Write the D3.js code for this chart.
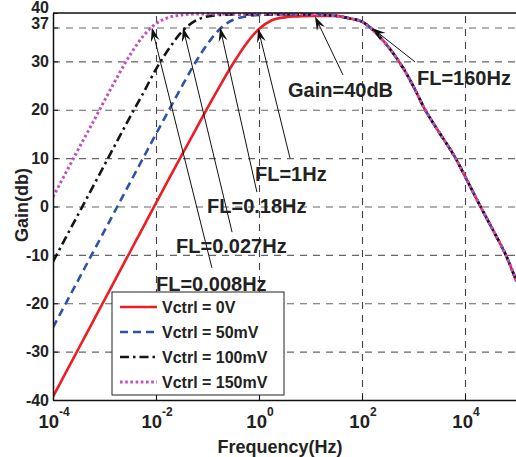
<!DOCTYPE html>
<html><head><meta charset="utf-8">
<script src="https://cdn.jsdelivr.net/npm/d3@7"></script>
<style>
body{margin:0;background:#fff}
svg text{font-family:"Liberation Sans",Arial,Helvetica,sans-serif;font-weight:bold;fill:#222}
</style>
</head><body>
<svg id="chart" width="516" height="457"></svg>
<script>
// ---- data ----
// frequency points as powers of ten (Hz)
const freqExp = [-4,-3.75,-3.5,-3.25,-3,-2.75,-2.5,-2.25,-2,-1.75,-1.5,-1.25,-1,-0.75,-0.5,-0.25,0,0.25,0.5,0.75,1,1.25,
                 1.5,1.75,2,2.16,2.35,2.54,2.8,3,3.2,3.5,3.8,4.05,4.3,4.55,4.8,5];
// high-frequency roll-off shared by all curves (from 10^1.5 Hz)
const gainHigh = [39.4,38.9,38.2,37,35,32.6,28.6,24.8,20.5,15.3,10.3,5.2,0,-5,-10.2,-15.5];
const gain0V   = [-39.3,-34.3,-29.3,-24.3,-19.3,-14.3,-9.3,-4.3,0.7,5.7,10.6,15.5,20.4,25.1,29.6,33.6,36.7,38.5,39.1,39.3,39.4,39.4].concat(gainHigh);
const gain50mV = [-25,-20,-15,-10,-5,0,5,10,15,19.9,24.8,29.5,33.6,36.8,38.6,39.3,39.6,39.7,39.7,39.7,39.7,39.6].concat(gainHigh);
const gain100mV= [-11.4,-6.4,-1.4,3.6,8.6,13.6,18.6,23.4,28.4,32.6,36.1,38.3,39.3,39.6,39.7,39.7,39.7,39.7,39.7,39.7,39.7,39.6].concat(gainHigh);
const gain150mV= [2,7,12,16.9,21.9,26.8,31.4,35.2,37.8,39.1,39.6,39.8,39.8,39.8,39.8,39.8,39.8,39.8,39.8,39.8,39.7,39.6].concat(gainHigh);

const seriesNames = ["Vctrl = 0V","Vctrl = 50mV","Vctrl = 100mV","Vctrl = 150mV"];
const seriesGains = [gain0V,gain50mV,gain100mV,gain150mV];

const xTickExp = [-4,-2,0,2,4];
const yTicks = [-40,-30,-20,-10,0,10,20,30,37,40];
const yGrid = [-30,-20,-10,0,10,20,30,37];

// annotations: label, label anchor (Hz, dB), arrow tail (Hz, dB), arrow tip (Hz, dB)
const annotations = [
  {text:"FL=0.008Hz", lx:0.0100, ly:-16.0, tx:0.122, ty:-12.7, hx:0.0083, hy:37.0},
  {text:"FL=0.027Hz", lx:0.0245, ly:-8.2,  tx:0.300, ty:-5.3,  hx:0.0334, hy:37.0},
  {text:"FL=0.18Hz",  lx:0.098,  ly:0.1,   tx:0.91,  ty:3.0,   hx:0.175,  hy:37.0},
  {text:"FL=1Hz",     lx:0.836,  ly:6.7,   tx:4.0,   ty:10.0,  hx:0.96,   hy:36.8},
  {text:"Gain=40dB",  lx:3.66,   ly:24.1,  tx:42.7,  ty:27.2,  hx:12.2,   hy:39.3},
  {text:"FL=160Hz",   lx:1170,   ly:26.6,  tx:1070,  ty:29.9,  hx:156,    hy:36.9}
];

// ---- styles ----
const styles = [
  {color:"#ee1c24", width:2.6, dash:null},
  {color:"#2f52a8", width:2.6, dash:"8,5"},
  {color:"#151515", width:2.6, dash:"9,4,2.5,4"},
  {color:"#c44fc0", width:3,   dash:"2.6,2.6"}
];

const svg = d3.select("#chart");
const L = 53, R = 516.5, T = 13, B = 400;
const x = d3.scaleLog().domain([1e-4,1e5]).range([L,R]);
const y = d3.scaleLinear().domain([-40,40]).range([B,T]);

// grid
svg.append("g").attr("transform",`translate(${L},0)`)
  .call(d3.axisLeft(y).tickValues(yGrid).tickSize(-(R-L)).tickFormat("").tickSizeOuter(0))
  .call(g=>g.select(".domain").remove())
  .call(g=>g.selectAll(".tick line").attr("stroke","#666").attr("stroke-width",1.1).attr("stroke-dasharray","7,6"));
svg.append("g").attr("transform",`translate(0,${B})`)
  .call(d3.axisBottom(x).tickValues(xTickExp.slice(1).map(e=>Math.pow(10,e))).tickSize(-(B-T)).tickFormat("").tickSizeOuter(0))
  .call(g=>g.select(".domain").remove())
  .call(g=>g.selectAll(".tick line").attr("stroke","#444").attr("stroke-width",1.1).attr("stroke-dasharray","7,6"));

// curves
svg.append("clipPath").attr("id","clip").append("rect").attr("x",L).attr("y",T-3).attr("width",R-L).attr("height",B-T+3);
const line = d3.line().x(d=>x(d.f)).y(d=>y(d.g)).curve(d3.curveMonotoneX);
const curves = svg.append("g").attr("clip-path","url(#clip)");
seriesGains.forEach((gs,i)=>{
  const pts = freqExp.map((e,j)=>({f:Math.pow(10,e), g:gs[j]}));
  curves.append("path").datum(pts).attr("d",line)
    .attr("fill","none").attr("stroke",styles[i].color).attr("stroke-width",styles[i].width)
    .attr("stroke-dasharray",styles[i].dash).attr("stroke-linejoin","round");
});

// axes
const yAxis = svg.append("g").attr("transform",`translate(${L},0)`)
  .call(d3.axisLeft(y).tickValues(yTicks).tickSize(-5).tickSizeOuter(0).tickPadding(4).tickFormat(d=>String(d)));
yAxis.select(".domain").attr("stroke","#111").attr("stroke-width",1.5);
yAxis.selectAll(".tick line").attr("stroke","#111");
yAxis.selectAll(".tick text").attr("font-size",16).attr("fill","#222")
  .attr("font-family",null).attr("dy",d=> d===40 ? "-0.02em" : (d===37 ? "0.06em" : "0.32em"));
const xAxis = svg.append("g").attr("transform",`translate(0,${B})`)
  .call(d3.axisBottom(x).tickValues(xTickExp.map(e=>Math.pow(10,e))).tickSize(-5).tickSizeOuter(0).tickFormat(""));
xAxis.select(".domain").attr("stroke","#111").attr("stroke-width",1.5);
xAxis.selectAll(".tick line").attr("stroke","#111");
// top border
svg.append("line").attr("x1",L).attr("x2",R).attr("y1",T).attr("y2",T).attr("stroke","#111").attr("stroke-width",1.5);

// x tick labels 10^n
xTickExp.forEach(e=>{
  const t = svg.append("text").attr("x",x(Math.pow(10,e))+1).attr("y",428).attr("text-anchor","middle").attr("font-size",18.5);
  t.append("tspan").text("10");
  t.append("tspan").attr("dy",-12).attr("font-size",12).text(String(e));
});

// axis titles
svg.append("text").attr("x",280).attr("y",453).attr("text-anchor","middle").attr("font-size",18).text("Frequency(Hz)");
svg.append("text").attr("transform","translate(28,205) rotate(-90)").attr("text-anchor","middle").attr("font-size",18).text("Gain(db)");

// annotations
const ann = svg.append("g");
annotations.forEach(a=>{
  const x0=x(a.tx), y0=y(a.ty), x1=x(a.hx), y1=y(a.hy);
  const ang = Math.atan2(y1-y0, x1-x0);
  const c=Math.cos(ang), s=Math.sin(ang);
  const P=(u,v)=>[x1+u*c - v*s, y1+u*s + v*c];
  const n = P(-9,0);
  ann.append("line").attr("x1",x0).attr("y1",y0).attr("x2",n[0]).attr("y2",n[1]).attr("stroke","#111").attr("stroke-width",1);
  const head=[P(0,0),P(-14,-4.5),P(-9,0),P(-14,4.5)];
  ann.append("path").attr("d","M"+head.map(p=>p.join(",")).join("L")+"Z").attr("fill","#111");
  ann.append("text").attr("x",x(a.lx)).attr("y",y(a.ly)).attr("dy","0.35em").attr("font-size",20).text(a.text);
});

// legend
const lg = svg.append("g");
lg.append("rect").attr("x",112).attr("y",292).attr("width",172).attr("height",103).attr("fill","#fff").attr("stroke","#222").attr("stroke-width",1);
seriesNames.forEach((nm,i)=>{
  const yy = 307 + i*25;
  lg.append("line").attr("x1",120).attr("x2",157).attr("y1",yy).attr("y2",yy)
    .attr("stroke",styles[i].color).attr("stroke-width",styles[i].width).attr("stroke-dasharray",styles[i].dash);
  lg.append("text").attr("x",162).attr("y",yy).attr("dy","0.36em").attr("font-size",16).text(nm);
});
</script>
</body></html>
